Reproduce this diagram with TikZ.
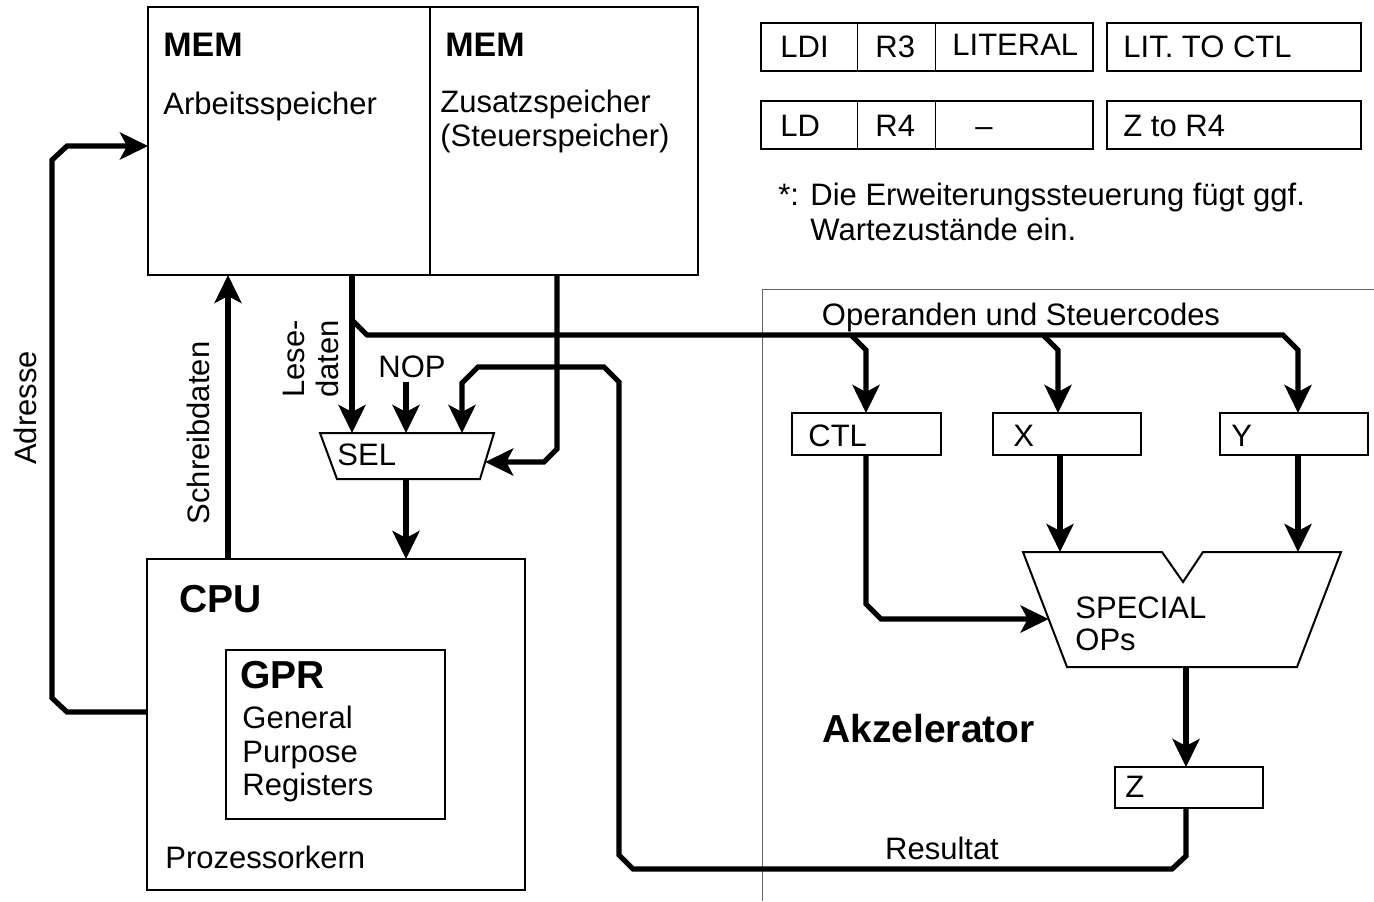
\documentclass[tikz,border=0pt]{standalone}
\usepackage{fontspec}
\setmainfont{Liberation Sans}
\usetikzlibrary{arrows.meta,fit,calc}

\begin{document}
\begin{tikzpicture}[x=0.5pt,y=-0.5pt,
  box/.style={draw, line width=1pt, inner sep=0pt, outer sep=0pt},
  thinbox/.style={draw, line width=0.6pt, inner sep=0pt, outer sep=0pt},
  tblbox/.style={draw, line width=1.4pt, inner sep=0pt, outer sep=0pt},
  outline/.style={line width=1pt, line join=miter},
  divider/.style={line width=0.5pt},
  wire/.style={line width=2.6pt, line join=miter},
  arr/.style={wire, -{Stealth[length=14pt,width=13.5pt,inset=3.5pt]}},
  txt/.style={inner sep=0pt, font=\fontsize{15.5}{17}\selectfont},
  head/.style={inner sep=0pt, font=\fontsize{17}{20}\selectfont\bfseries},
  big/.style={inner sep=0pt, font=\fontsize{19.5}{23}\selectfont\bfseries},
  frame/.style={line width=0.5pt, draw=black!60},
]
\useasboundingbox (0,0) rectangle (1374,901);

% ---------- memories ----------
\node[box, fit={(148,7) (430,275)}] (memA) {};
\node[box, fit={(430,7) (698,275)}] (memB) {};
\node[head, anchor=base west] (memAt) at (163,56) {MEM};
\node[txt, anchor=base west] (memAd) at (163,114) {Arbeitsspeicher};
\node[head, anchor=base west] (memBt) at (445,56) {MEM};
\node[txt, anchor=base west] (memBd1) at (440,112) {Zusatzspeicher};
\node[txt, anchor=base west] (memBd2) at (440,146) {(Steuerspeicher)};

% ---------- instruction table ----------
\node[tblbox, fit={(761,23) (1093,71)}] (rowA) {};
\node[tblbox, fit={(1107,23) (1361,71)}] (rowAc) {};
\node[tblbox, fit={(761,101) (1093,149)}] (rowB) {};
\node[tblbox, fit={(1107,101) (1361,149)}] (rowBc) {};
\draw[divider] (857,0 |- rowA.north) -- (857,0 |- rowA.south);
\draw[divider] (935,0 |- rowA.north) -- (935,0 |- rowA.south);
\draw[divider] (857,0 |- rowB.north) -- (857,0 |- rowB.south);
\draw[divider] (935,0 |- rowB.north) -- (935,0 |- rowB.south);
\node[txt, anchor=base west] (ldi) at (780,57) {LDI};
\node[txt, anchor=base west] (rthree) at (875,57) {R3};
\node[txt, anchor=base west] (literal) at (952,55) {LITERAL};
\node[txt, anchor=base west] (litctl) at (1123,57) {LIT. TO CTL};
\node[txt, anchor=base west] (ld) at (780,136) {LD};
\node[txt, anchor=base west] (rfour) at (875,136) {R4};
\node[txt, anchor=base] (dash) at (984,136) {–};
\node[txt, anchor=base west] (ztor) at (1123,136) {Z to R4};

\node[txt, anchor=base west] (star) at (778,205) {*:};
\node[txt, anchor=base west] (noteA) at (810,205) {Die Erweiterungssteuerung fügt ggf.};
\node[txt, anchor=base west] (noteB) at (810,240) {Wartezustände ein.};

% ---------- accelerator region ----------
\draw[frame] (762,901) -- (762,289) -- (1374,289);
\node[txt, anchor=base] (opsc) at (1021,325) {Operanden und Steuercodes};
\node[big, anchor=base west] (akz) at (822,742) {Akzelerator};

\node[box, fit={(792,413) (941,455)}] (ctl) {};
\node[box, fit={(993,413) (1141,455)}] (xreg) {};
\node[box, fit={(1220,413) (1368,455)}] (yreg) {};
\node[txt, anchor=base west] (ctlt) at (808,446) {CTL};
\node[txt, anchor=base west] (xt) at (1013,446) {X};
\node[txt, anchor=base west] (yt) at (1231,446) {Y};

% special-operation unit (notched trapezoid)
\coordinate (spTL) at (1023,552);
\coordinate (spTR) at (1341,552);
\coordinate (spBR) at (1297,667);
\coordinate (spBL) at (1067,667);
\draw[outline] (spTL) -- (1162,552) -- (1183,582) -- (1203,552) -- (spTR)
  -- (spBR) -- (spBL) -- cycle;
\node[txt, anchor=base west] (spA) at (1075,618) {SPECIAL};
\node[txt, anchor=base west] (spB) at (1075,650) {OPs};

\node[box, fit={(1115,767) (1263,808)}] (zreg) {};
\node[txt, anchor=base west] (zt) at (1125,797) {Z};
\node[txt, anchor=base] (res) at (942,859) {Resultat};

% ---------- selector ----------
\coordinate (selTL) at (320,433);
\coordinate (selTR) at (494,433);
\coordinate (selBR) at (480,479);
\coordinate (selBL) at (337,479);
\draw[outline] (selTL) -- (selTR) -- (selBR) -- (selBL) -- cycle;
\node[txt, anchor=base west] (selt) at (337,465) {SEL};
\coordinate (selR) at ($(selTR)!0.63!(selBR)$);
\node[txt, anchor=base] (nop) at (412,377) {NOP};
\node[txt, rotate=90, align=center] (lese) at (311,359) {Lese-\\daten};

% ---------- CPU ----------
\node[box, fit={(147,559) (525,890)}] (cpu) {};
\node[thinbox, fit={(226,650) (445,819)}] (gpr) {};
\node[big, anchor=base west] (cput) at (179,612) {CPU};
\node[big, anchor=base west] (gprt) at (240,688) {GPR};
\node[txt, anchor=base west] (gprA) at (242,728) {General};
\node[txt, anchor=base west] (gprB) at (242,762) {Purpose};
\node[txt, anchor=base west] (gprC) at (242,795) {Registers};
\node[txt, anchor=base west] (core) at (165,868) {Prozessorkern};

\node[txt, rotate=90] (adr) at (25,408) {Adresse};
\node[txt, rotate=90] (wdat) at (198,433) {Schreibdaten};

% ---------- connectors ----------
% read data into the selector
\draw[arr] (352,0 |- memA.south) -- (352,0 |- selTL);
% operand / control bus
\draw[arr] (352,320) -- (367,335) -- (1283,335) -- (1298,350) -- (1298,0 |- yreg.north);
\draw[arr] (851,335) -- (866,350) -- (866,0 |- ctl.north);
\draw[arr] (1043,335) -- (1058,350) -- (1058,0 |- xreg.north);
% NOP input
\draw[arr] (406,382) -- (406,0 |- selTL);
% control memory into the selector
\draw[arr] (557,0 |- memB.south) -- (557,449) -- (544,462) -- (selR);
% selector to CPU
\draw[arr] (406,0 |- selBL) -- (406,0 |- cpu.north);
% write data and address
\draw[arr] (228,0 |- cpu.north) -- (228,0 |- memA.south);
\draw[arr] (cpu.west |- 0,712) -- (67,712) -- (52,698) -- (52,160) -- (67,146) -- (memA.west |- 0,146);
% accelerator datapath
\draw[arr] (1060,0 |- xreg.south) -- (1060,0 |- spTL);
\draw[arr] (1298,0 |- yreg.south) -- (1298,0 |- spTL);
\draw[arr] (866,0 |- ctl.south) -- (866,604) -- (881,619) -- ($(spTL)!0.583!(spBL)$);
\draw[arr] (1186,0 |- spBL) -- (1186,0 |- zreg.north);
% result back to the selector
\draw[arr] (1186,0 |- zreg.south) -- (1186,856) -- (1172,869) -- (633,869) -- (619,855)
  -- (619,382) -- (604,367) -- (478,367) -- (462,383) -- (462,0 |- selTL);
\end{tikzpicture}
\end{document}
